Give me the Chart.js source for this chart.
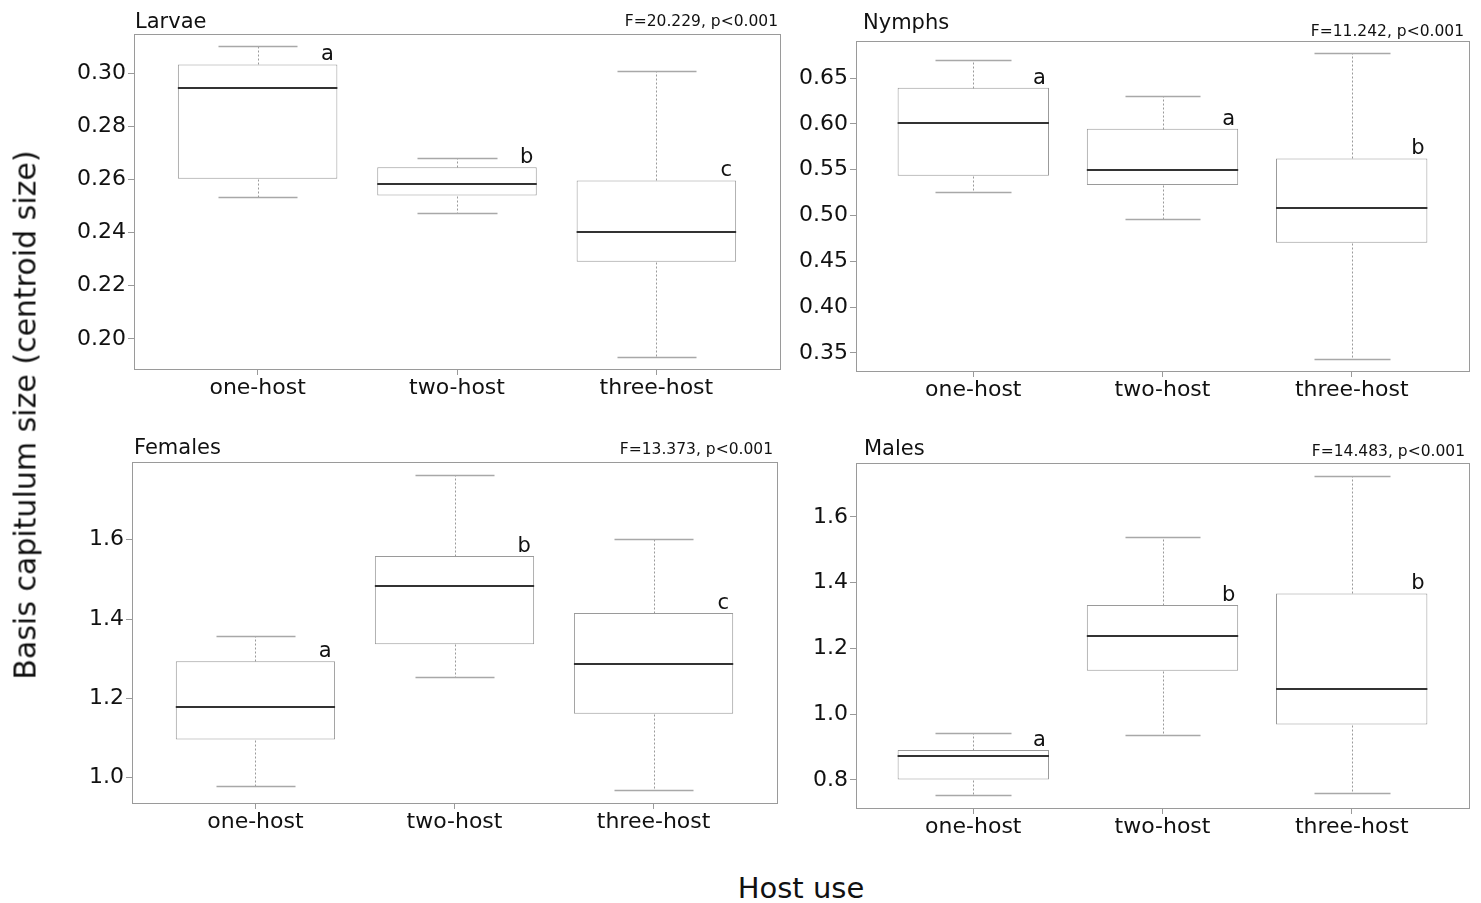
<!DOCTYPE html>
<html>
<head>
<meta charset="utf-8">
<script src="https://cdn.jsdelivr.net/npm/chart.js@4.4.1/dist/chart.umd.min.js"></script>
<style>
  html, body { margin: 0; padding: 0; background: #fff; }
  #page { position: relative; width: 1481px; height: 903px; overflow: hidden; font-family: "DejaVu Sans", sans-serif; color: #111; }
  #page canvas { position: absolute; }
  .ylab { position: absolute; left: 25px; top: 415px; transform: translate(-50%, -50%) rotate(-90deg); font-size: 30px; white-space: nowrap; }
  .xlab { position: absolute; left: 801px; top: 888px; transform: translate(-50%, -50%); font-size: 29px; white-space: nowrap; }
</style>
</head>
<body>
<div id="page">
  <canvas id="larvae"></canvas>
  <canvas id="nymphs"></canvas>
  <canvas id="females"></canvas>
  <canvas id="males"></canvas>
  <div class="ylab">Basis capitulum size (centroid size)</div>
  <div class="xlab">Host use</div>
</div>
<script>
// Host-use groups on the x axis
const categories = ['one-host', 'two-host', 'three-host'];

// Larvae: whisker ends, quartiles and medians
const larvaeLow    = [0.2535, 0.2475, 0.1933];
const larvaeQ1     = [0.2603, 0.2540, 0.2290];
const larvaeMedian = [0.2945, 0.2585, 0.2403];
const larvaeQ3     = [0.3034, 0.2647, 0.2597];
const larvaeHigh   = [0.3102, 0.2680, 0.3010];
const larvaeGroups = ['a', 'b', 'c'];
const larvaeTicks  = [0.20, 0.22, 0.24, 0.26, 0.28, 0.30];
const larvaeStat   = 'F=20.229, p<0.001';

// Nymphs
const nymphsLow    = [0.5261, 0.4960, 0.3435];
const nymphsQ1     = [0.5435, 0.5333, 0.4703];
const nymphsMedian = [0.6007, 0.5496, 0.5083];
const nymphsQ3     = [0.6395, 0.5946, 0.5623];
const nymphsHigh   = [0.6703, 0.6304, 0.6772];
const nymphsGroups = ['a', 'a', 'b'];
const nymphsTicks  = [0.35, 0.40, 0.45, 0.50, 0.55, 0.60, 0.65];
const nymphsStat   = 'F=11.242, p<0.001';

// Females
const femalesLow    = [0.9799, 1.2536, 0.9682];
const femalesQ1     = [1.0962, 1.3364, 1.1615];
const femalesMedian = [1.1774, 1.4845, 1.2879];
const femalesQ3     = [1.2937, 1.5590, 1.4151];
const femalesHigh   = [1.3582, 1.7640, 1.6017];
const femalesGroups = ['a', 'b', 'c'];
const femalesTicks  = [1.0, 1.2, 1.4, 1.6];
const femalesStat   = 'F=13.373, p<0.001';

// Males
const malesLow    = [0.7535, 0.9373, 0.7606];
const malesQ1     = [0.8010, 1.1322, 0.9686];
const malesMedian = [0.8718, 1.2394, 1.0779];
const malesQ3     = [0.8910, 1.3322, 1.3676];
const malesHigh   = [0.9426, 1.5393, 1.7254];
const malesGroups = ['a', 'b', 'b'];
const malesTicks  = [0.8, 1.0, 1.2, 1.4, 1.6];
const malesStat   = 'F=14.483, p<0.001';

// Space reserved around each plot frame inside its canvas
const AXIS_W = 100, PAD_T = 42, PAD_R = 14, AXIS_H = 50;
const FONT = '"DejaVu Sans", sans-serif';
const GREY = '#9a9a9a';

const panels = [
  { id: 'larvae', title: 'Larvae', stat: larvaeStat, low: larvaeLow, q1: larvaeQ1, med: larvaeMedian, q3: larvaeQ3, high: larvaeHigh,
    groups: larvaeGroups, ticks: larvaeTicks, digits: 2,
    frame: { left: 134, top: 34, right: 780, bottom: 369 }, titleAt: [1, 6], statAt: [-2, 8] },
  { id: 'nymphs', title: 'Nymphs', stat: nymphsStat, low: nymphsLow, q1: nymphsQ1, med: nymphsMedian, q3: nymphsQ3, high: nymphsHigh,
    groups: nymphsGroups, ticks: nymphsTicks, digits: 2,
    frame: { left: 856, top: 41, right: 1469, bottom: 371 }, titleAt: [7, 12], statAt: [-5, 5] },
  { id: 'females', title: 'Females', stat: femalesStat, low: femalesLow, q1: femalesQ1, med: femalesMedian, q3: femalesQ3, high: femalesHigh,
    groups: femalesGroups, ticks: femalesTicks, digits: 1,
    frame: { left: 132, top: 462, right: 777, bottom: 803 }, titleAt: [2, 8], statAt: [-4, 8] },
  { id: 'males', title: 'Males', stat: malesStat, low: malesLow, q1: malesQ1, med: malesMedian, q3: malesQ3, high: malesHigh,
    groups: malesGroups, ticks: malesTicks, digits: 1,
    frame: { left: 856, top: 463, right: 1469, bottom: 808 }, titleAt: [8, 8], statAt: [-4, 7] }
];

// Whiskers, staples, medians, group letters, frame and headings
function boxExtras(p) {
  return {
    id: 'boxExtras',
    afterDatasetsDraw(chart) {
      const { ctx, chartArea: a, scales: { x, y } } = chart;
      const seg = (x1, y1, x2, y2) => { ctx.beginPath(); ctx.moveTo(x1, y1); ctx.lineTo(x2, y2); ctx.stroke(); };
      const px = v => Math.round(x.getPixelForValue(v)) + 0.5;
      const py = v => Math.round(y.getPixelForValue(v)) + 0.5;
      ctx.save();
      categories.forEach((c, i) => {
        const k = i + 1;
        const cx = px(k);
        ctx.strokeStyle = GREY;
        ctx.lineWidth = 1;
        ctx.setLineDash([2, 2]);
        seg(cx, py(p.q3[i]), cx, py(p.high[i]));
        seg(cx, py(p.q1[i]), cx, py(p.low[i]));
        ctx.setLineDash([]);
        ctx.strokeStyle = '#a8a8a8';
        ctx.lineWidth = 1.5;
        seg(px(k - 0.2), py(p.high[i]), px(k + 0.2), py(p.high[i]));
        seg(px(k - 0.2), py(p.low[i]), px(k + 0.2), py(p.low[i]));
        ctx.strokeStyle = '#333';
        ctx.lineWidth = 2.2;
        const my = Math.round(y.getPixelForValue(p.med[i]));
        seg(x.getPixelForValue(k - 0.4), my, x.getPixelForValue(k + 0.4), my);
        ctx.fillStyle = '#111';
        ctx.font = '21px ' + FONT;
        ctx.textAlign = 'center';
        ctx.textBaseline = 'alphabetic';
        ctx.fillText(p.groups[i], x.getPixelForValue(k + 0.35), y.getPixelForValue(p.q3[i]) - 4);
      });
      ctx.strokeStyle = GREY;
      ctx.lineWidth = 1;
      ctx.strokeRect(Math.round(a.left) + 0.5, Math.round(a.top) + 0.5, Math.round(a.right - a.left), Math.round(a.bottom - a.top));
      ctx.fillStyle = '#111';
      ctx.textBaseline = 'alphabetic';
      ctx.textAlign = 'left';
      ctx.font = '21px ' + FONT;
      ctx.fillText(p.title, a.left + p.titleAt[0], a.top - p.titleAt[1]);
      ctx.textAlign = 'right';
      ctx.font = '15.5px ' + FONT;
      ctx.fillText(p.stat, a.right + p.statAt[0], a.top - p.statAt[1]);
      ctx.restore();
    }
  };
}

panels.forEach(p => {
  const f = p.frame;
  const cv = document.getElementById(p.id);
  const w = f.right - f.left + AXIS_W + PAD_R;
  const h = f.bottom - f.top + PAD_T + AXIS_H;
  cv.width = w; cv.height = h;
  cv.style.left = (f.left - AXIS_W) + 'px';
  cv.style.top = (f.top - PAD_T) + 'px';
  cv.style.width = w + 'px';
  cv.style.height = h + 'px';

  // Value range padded by 4% on each side; x spans the groups with the same padding
  const lo = Math.min(...p.low), hi = Math.max(...p.high);
  const padY = (hi - lo) * 0.04;
  const n = categories.length;
  const padX = n * 0.04;

  new Chart(cv, {
    type: 'bar',
    data: {
      datasets: [{
        data: categories.map((c, i) => ({ x: i + 1, y: [p.q1[i], p.q3[i]] })),
        backgroundColor: '#ffffff',
        borderColor: GREY,
        borderWidth: 1,
        borderSkipped: false,
        barPercentage: 0.8,
        categoryPercentage: 1.0
      }]
    },
    options: {
      responsive: false,
      animation: false,
      devicePixelRatio: 1,
      layout: { padding: { top: PAD_T, right: PAD_R, left: 0, bottom: 0 } },
      plugins: { legend: { display: false }, tooltip: { enabled: false } },
      scales: {
        x: {
          type: 'linear',
          offset: false,
          min: 0.5 - padX,
          max: n + 0.5 + padX,
          afterFit(axis) { axis.height = AXIS_H; },
          afterBuildTicks(axis) { axis.ticks = categories.map((c, i) => ({ value: i + 1 })); },
          ticks: {
            callback: v => categories[Math.round(v) - 1],
            font: { family: FONT, size: 22 },
            color: '#111',
            padding: 0,
            maxRotation: 0,
            autoSkip: false
          },
          grid: { offset: false, drawOnChartArea: false, drawTicks: true, tickLength: 6, color: GREY },
          border: { display: false }
        },
        y: {
          min: lo - padY,
          max: hi + padY,
          afterFit(axis) { axis.width = AXIS_W; },
          afterBuildTicks(axis) { axis.ticks = p.ticks.map(v => ({ value: v })); },
          ticks: {
            callback: v => Number(v).toFixed(p.digits),
            font: { family: FONT, size: 22 },
            color: '#111',
            padding: 2,
            autoSkip: false
          },
          grid: { offset: false, drawOnChartArea: false, drawTicks: true, tickLength: 6, color: GREY },
          border: { display: false }
        }
      }
    },
    plugins: [boxExtras(p)]
  });
});
</script>
</body>
</html>
